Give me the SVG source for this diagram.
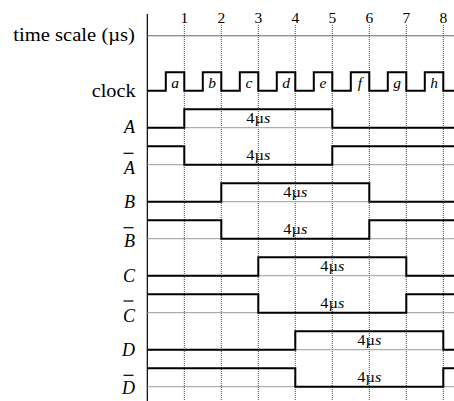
<svg xmlns="http://www.w3.org/2000/svg" width="454" height="401" viewBox="0 0 454 401">
<style>
text{font-family:'Liberation Serif',Tinos,'DejaVu Serif',serif;fill:#000}
.lbl{font-size:18px;font-style:italic;text-anchor:end}
.tick{font-size:15.5px;text-anchor:middle}
.clk{font-size:15.5px;font-style:italic;text-anchor:middle}
.dur{font-size:14px;text-anchor:middle}
.wave{fill:none;stroke:#000;stroke-width:2}
.base{stroke:#9a9a9a;stroke-width:1}
.grid{stroke:#444;stroke-width:1;stroke-dasharray:1 1}
.bar{stroke:#000;stroke-width:1.2}
</style>
<rect width="454" height="401" fill="#fff"/>
<g id="grid">
<line x1="147.3" y1="14" x2="147.3" y2="401" stroke="#000" stroke-width="1.2"/>
<line x1="147.3" y1="35.8" x2="454" y2="35.8" stroke="#666" stroke-width="1"/>
<line class="grid" x1="184.3" y1="25" x2="184.3" y2="401"/>
<line class="grid" x1="221.3" y1="25" x2="221.3" y2="401"/>
<line class="grid" x1="258.3" y1="25" x2="258.3" y2="401"/>
<line class="grid" x1="295.3" y1="25" x2="295.3" y2="401"/>
<line class="grid" x1="332.3" y1="25" x2="332.3" y2="401"/>
<line class="grid" x1="369.3" y1="25" x2="369.3" y2="401"/>
<line class="grid" x1="406.3" y1="25" x2="406.3" y2="401"/>
<line class="grid" x1="443.3" y1="25" x2="443.3" y2="401"/>
<text class="tick" x="184.3" y="23">1</text>
<text class="tick" x="221.3" y="23">2</text>
<text class="tick" x="258.3" y="23">3</text>
<text class="tick" x="295.3" y="23">4</text>
<text class="tick" x="332.3" y="23">5</text>
<text class="tick" x="369.3" y="23">6</text>
<text class="tick" x="406.3" y="23">7</text>
<text class="tick" x="443.3" y="23">8</text>
<text x="13.3" y="40.5" font-size="18" textLength="121.7" lengthAdjust="spacingAndGlyphs">time scale (µs)</text>
</g>
<g id="clock">
<text x="91.7" y="96.5" font-size="18" textLength="44" lengthAdjust="spacingAndGlyphs">clock</text>
<path class="wave" d="M147.3,90.7 H165.8 V72.3 H184.3 V90.7 H202.8 V72.3 H221.3 V90.7 H239.8 V72.3 H258.3 V90.7 H276.8 V72.3 H295.3 V90.7 H313.8 V72.3 H332.3 V90.7 H350.8 V72.3 H369.3 V90.7 H387.8 V72.3 H406.3 V90.7 H424.8 V72.3 H443.3 V90.7 H454"/>
<text class="clk" x="175" y="87.5">a</text>
<text class="clk" x="212" y="87.5">b</text>
<text class="clk" x="249" y="87.5">c</text>
<text class="clk" x="286" y="87.5">d</text>
<text class="clk" x="323" y="87.5">e</text>
<text class="clk" x="360" y="87.5">f</text>
<text class="clk" x="397" y="87.5">g</text>
<text class="clk" x="434" y="87.5">h</text>
</g>
<g id="sigA">
<line class="base" x1="147.3" y1="127.7" x2="454" y2="127.7"/>
<path class="wave" d="M147.3,127.7 H184.3 V109.2 H332.3 V127.7 H454"/>
<text class="lbl" x="135" y="132.5">A</text>
<text class="dur" x="258.3" y="123.2" textLength="24" lengthAdjust="spacingAndGlyphs">4µ<tspan font-style="italic">s</tspan></text>
</g>
<g id="sigAbar">
<line class="base" x1="147.3" y1="164.7" x2="454" y2="164.7"/>
<path class="wave" d="M147.3,146.2 H184.3 V164.7 H332.3 V146.2 H454"/>
<text class="lbl" x="135" y="174">A</text>
<line class="bar" x1="123.5" y1="153.3" x2="133.5" y2="153.3"/>
<text class="dur" x="258.3" y="160.2" textLength="24" lengthAdjust="spacingAndGlyphs">4µ<tspan font-style="italic">s</tspan></text>
</g>
<g id="sigB">
<line class="base" x1="147.3" y1="201.7" x2="454" y2="201.7"/>
<path class="wave" d="M147.3,201.7 H221.3 V183.2 H369.3 V201.7 H454"/>
<text class="lbl" x="135" y="207.5">B</text>
<text class="dur" x="295.3" y="197.2" textLength="24" lengthAdjust="spacingAndGlyphs">4µ<tspan font-style="italic">s</tspan></text>
</g>
<g id="sigBbar">
<line class="base" x1="147.3" y1="238.7" x2="454" y2="238.7"/>
<path class="wave" d="M147.3,220.2 H221.3 V238.7 H369.3 V220.2 H454"/>
<text class="lbl" x="135" y="246.5">B</text>
<line class="bar" x1="123.5" y1="227.7" x2="133.5" y2="227.7"/>
<text class="dur" x="295.3" y="234.2" textLength="24" lengthAdjust="spacingAndGlyphs">4µ<tspan font-style="italic">s</tspan></text>
</g>
<g id="sigC">
<line class="base" x1="147.3" y1="275.7" x2="454" y2="275.7"/>
<path class="wave" d="M147.3,275.7 H258.3 V257.2 H406.3 V275.7 H454"/>
<text class="lbl" x="135" y="282">C</text>
<text class="dur" x="332.3" y="271.2" textLength="24" lengthAdjust="spacingAndGlyphs">4µ<tspan font-style="italic">s</tspan></text>
</g>
<g id="sigCbar">
<line class="base" x1="147.3" y1="312.7" x2="454" y2="312.7"/>
<path class="wave" d="M147.3,294.2 H258.3 V312.7 H406.3 V294.2 H454"/>
<text class="lbl" x="135" y="321.5">C</text>
<line class="bar" x1="123.5" y1="301" x2="133.5" y2="301"/>
<text class="dur" x="332.3" y="308.2" textLength="24" lengthAdjust="spacingAndGlyphs">4µ<tspan font-style="italic">s</tspan></text>
</g>
<g id="sigD">
<line class="base" x1="147.3" y1="349.7" x2="454" y2="349.7"/>
<path class="wave" d="M147.3,349.7 H295.3 V331.2 H443.3 V349.7 H454"/>
<text class="lbl" x="135" y="356">D</text>
<text class="dur" x="369.3" y="345.2" textLength="24" lengthAdjust="spacingAndGlyphs">4µ<tspan font-style="italic">s</tspan></text>
</g>
<g id="sigDbar">
<line class="base" x1="147.3" y1="386.7" x2="454" y2="386.7"/>
<path class="wave" d="M147.3,368.2 H295.3 V386.7 H443.3 V368.2 H454"/>
<text class="lbl" x="135" y="394">D</text>
<line class="bar" x1="123.5" y1="375.3" x2="133.5" y2="375.3"/>
<text class="dur" x="369.3" y="382.2" textLength="24" lengthAdjust="spacingAndGlyphs">4µ<tspan font-style="italic">s</tspan></text>
</g>
</svg>
